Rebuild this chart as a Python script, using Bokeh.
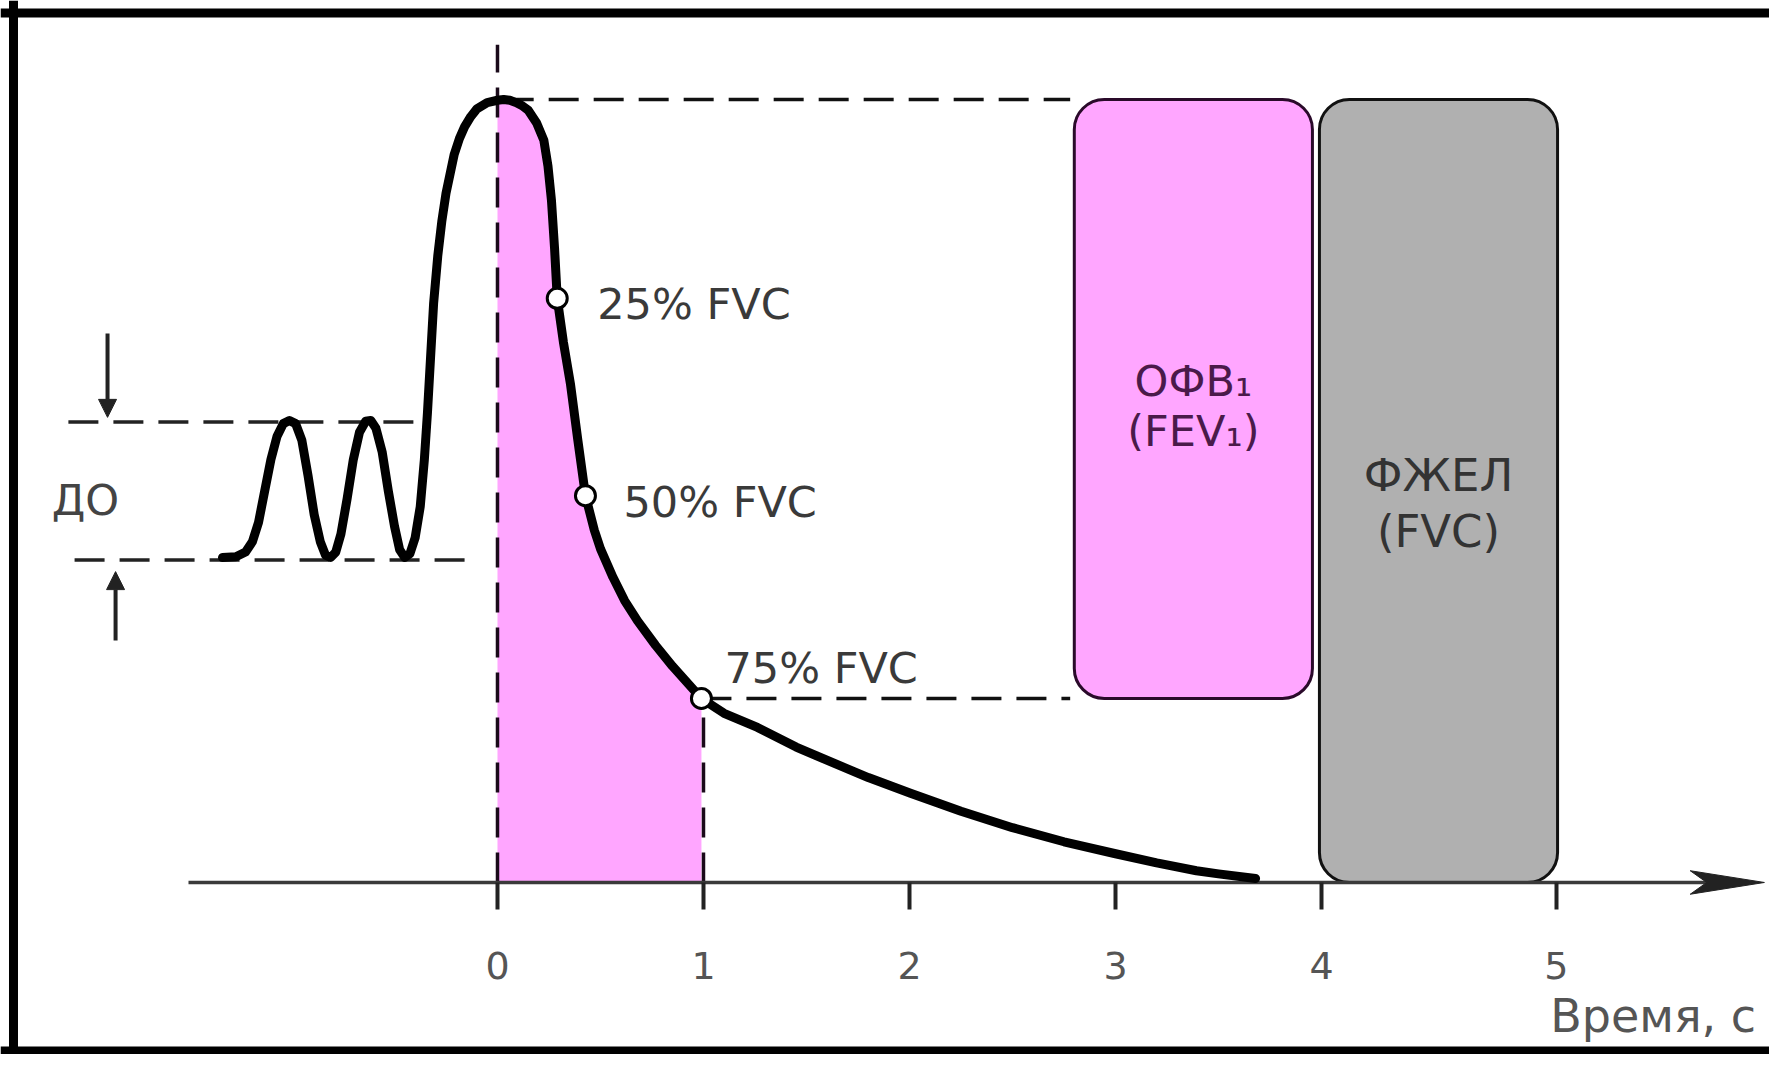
from bokeh.plotting import figure
from bokeh.models import (Range1d, LinearAxis, FixedTicker, NumeralTickFormatter,
                          Span, Arrow, NormalHead, ColumnDataSource)
from bokeh.core.properties import value
from bokeh.embed import file_html
from bokeh.resources import INLINE

# ---------------- data (time in s, volume in % of FVC) ----------------
CURVE_T = [-1.335, -1.27, -1.223, -1.19, -1.16, -1.13, -1.10, -1.07, -1.04, -1.01, -0.98,
           -0.95, -0.92, -0.89, -0.86, -0.835, -0.81, -0.785, -0.76, -0.73, -0.70, -0.67,
           -0.64, -0.615, -0.59, -0.56, -0.53, -0.50, -0.475, -0.45, -0.425, -0.40, -0.375,
           -0.355, -0.34, -0.325, -0.31, -0.29, -0.27, -0.25, -0.21, -0.185, -0.16, -0.13,
           -0.10, -0.05, 0.0, 0.03, 0.06, 0.09, 0.12, 0.15, 0.19, 0.225, 0.245, 0.262, 0.277,
           0.29, 0.32, 0.354, 0.39, 0.427, 0.47, 0.50, 0.56, 0.617, 0.68, 0.767, 0.85, 0.99,
           1.10, 1.262, 1.45, 1.636, 1.80, 2.005, 2.25, 2.50, 2.75, 2.995, 3.20, 3.393, 3.50,
           3.68]
CURVE_V = [41.5, 41.6, 42.2, 43.5, 46.0, 50.0, 54.0, 57.0, 58.6, 59.0, 58.6,
           56.5, 52.0, 47.0, 43.5, 41.8, 41.5, 42.2, 44.5, 49.0, 54.0, 57.5,
           58.9, 59.0, 58.0, 55.0, 50.0, 45.5, 42.5, 41.5, 42.0, 44.0, 48.0,
           54.0, 60.0, 67.0, 74.0, 80.0, 84.5, 88.0, 93.0, 95.0, 96.5, 97.8,
           98.8, 99.6, 99.9, 100.0, 99.9, 99.6, 99.2, 98.6, 97.0, 94.8, 91.5, 87.1, 81.0,
           74.6, 69.0, 63.7, 56.5, 49.4, 45.0, 42.6, 39.0, 36.0, 33.4, 30.3, 27.6, 23.5,
           21.6, 19.8, 17.3, 15.2, 13.4, 11.4, 9.1, 7.0, 5.2, 3.7, 2.5, 1.5, 1.1,
           0.5]

MARK_T = [0.29, 0.427, 0.99]
MARK_V = [74.6, 49.4, 23.5]
MARK_LABELS = ["25%  FVC", "50%  FVC", "75%  FVC"]

TIDAL_TOP = 58.8
TIDAL_BOTTOM = 41.2
PEAK_T = 0.03
PEAK_V = 100.0

FEV1_T = [2.80, 3.956]
FEV1_V = [23.5, 100.0]
FVC_T = [3.99, 5.146]
FVC_V = [0.0, 100.0]

TICK_POS = [0, 1, 2, 3, 4, 5.14]

# ---------------- figure ----------------
X0, X1 = -2.4126, 6.1748
Y0, Y1 = -21.97, 112.64
p = figure(width=1769, height=1054, x_range=Range1d(X0, X1), y_range=Range1d(Y0, Y1),
           x_axis_type=None, y_axis_type=None, toolbar_location=None,
           output_backend="svg", min_border=0)
p.outline_line_color = None
p.background_fill_color = "white"
p.border_fill_color = "white"

FONT = value("DejaVu Sans")
PINK = "#FFA6FF"
GREY = "#B0B0B0"
DASH = "30 15"

# shaded FEV1 area under the curve (0..1 s)
fill_t = [t for t in CURVE_T if 0 <= t <= 0.99]
fill_v = [v for t, v in zip(CURVE_T, CURVE_V) if 0 <= t <= 0.99]
p.varea(x=fill_t, y1=[0] * len(fill_t), y2=fill_v, fill_color=PINK)

# volume bars
p.quad(left=[FVC_T[0]], right=[FVC_T[1]], bottom=[FVC_V[0]], top=[FVC_V[1]],
       fill_color=GREY, line_color="#111111", line_width=3, border_radius=30)
p.quad(left=[FEV1_T[0]], right=[FEV1_T[1]], bottom=[FEV1_V[0]], top=[FEV1_V[1]],
       fill_color=PINK, line_color="#2a0a2a", line_width=3, border_radius=30)

# dashed guide lines
p.segment(x0=[0, 1], y0=[0, 0], x1=[0, 1], y1=[107, MARK_V[2]],
          line_color="#1a0a1a", line_width=3.5, line_dash=DASH)
p.segment(x0=[PEAK_T, MARK_T[2]], y0=[PEAK_V, MARK_V[2]],
          x1=[FEV1_T[0] - 0.02, FEV1_T[0] - 0.02], y1=[PEAK_V, MARK_V[2]],
          line_color="#111111", line_width=3.5, line_dash=DASH)
p.segment(x0=[-2.083, -2.053], y0=[TIDAL_TOP, TIDAL_BOTTOM],
          x1=[-0.359, -0.121], y1=[TIDAL_TOP, TIDAL_BOTTOM],
          line_color="#222222", line_width=3.5, line_dash=DASH)

# tidal volume arrows
p.add_layout(Arrow(x_start=-1.893, y_start=70.1, x_end=-1.893, y_end=TIDAL_TOP + 0.6,
                   line_width=4, line_color="#222222",
                   end=NormalHead(size=18, fill_color="#222222", line_color="#222222")))
p.add_layout(Arrow(x_start=-1.854, y_start=30.9, x_end=-1.854, y_end=TIDAL_BOTTOM - 1.5,
                   line_width=4, line_color="#222222",
                   end=NormalHead(size=18, fill_color="#222222", line_color="#222222")))

# time axis line with arrow
AXIS_START, AXIS_END = -1.5, 6.15
p.segment(x0=[AXIS_START], y0=[0], x1=[AXIS_END - 0.2], y1=[0],
          line_color="#3a3a3a", line_width=3.5)
p.patch(x=[AXIS_END - 0.36, AXIS_END, AXIS_END - 0.36, AXIS_END - 0.28],
        y=[1.5, 0, -1.5, 0], fill_color="#222222", line_color="#222222", line_width=1)

axis = LinearAxis(fixed_location=0, ticker=FixedTicker(ticks=TICK_POS),
                  formatter=NumeralTickFormatter(format="0"))
axis.axis_line_color = None
axis.major_tick_line_color = "#222222"
axis.major_tick_line_width = 4
axis.major_tick_out = 27
axis.major_tick_in = 0
axis.minor_tick_line_color = None
axis.major_label_text_font = "DejaVu Sans"
axis.major_label_text_font_size = "38px"
axis.major_label_text_color = "#555555"
axis.major_label_standoff = 43
p.add_layout(axis, "below")

# spirogram curve
p.line(x=CURVE_T, y=CURVE_V, line_color="black", line_width=9, line_join="round", line_cap="round")

# marker points with labels
src = ColumnDataSource(dict(t=MARK_T, v=MARK_V, label=MARK_LABELS,
                            dx=[40, 38, 23], dy=[6, 6, -30]))
p.scatter(x="t", y="v", source=src, size=20, fill_color="white", line_color="black", line_width=3)
p.text(x="t", y="v", text="label", source=src, x_offset="dx", y_offset="dy",
       text_font=FONT, text_font_size="43px", text_color="#3a3a3a",
       text_baseline="middle", text_align="left")

# text labels
p.text(x=[-2.0], y=[48.8], text=["ДО"], text_font=FONT, text_font_size="43px",
       text_color="#444444", text_align="center", text_baseline="middle")
p.text(x=[sum(FEV1_T) / 2] * 2, y=[64.1, 57.7], text=["ОФВ₁", "(FEV₁)"], text_font=FONT,
       text_font_size="43px", text_color="#4a1a4a", text_align="center", text_baseline="middle")
p.text(x=[sum(FVC_T) / 2] * 2, y=[52.0, 44.8], text=["ФЖЕЛ", "(FVC)"], text_font=FONT,
       text_font_size="45px", text_color="#333333", text_align="center", text_baseline="middle")
p.text(x=[5.11], y=[-17.1], text=["Время, с"], text_font=FONT, text_font_size="46px",
       text_color="#555555", text_align="left", text_baseline="middle")

# picture frame (left, top, bottom)
p.add_layout(Span(location=-2.3495, dimension="height", line_color="black", line_width=9))
p.add_layout(Span(location=111.05, dimension="width", line_color="black", line_width=9))
p.add_layout(Span(location=Y0, dimension="width", line_color="black", line_width=16))

open("out.html", "w").write(file_html(p, INLINE))
